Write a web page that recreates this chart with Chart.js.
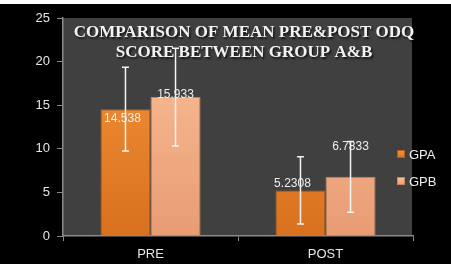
<!DOCTYPE html>
<html lang="en">
<head>
    <meta charset="UTF-8">
    <title>Mean PRE & POST ODQ score</title>
    <script src="https://cdn.jsdelivr.net/npm/chart.js"></script>
    <style>
        html, body { margin: 0; padding: 0; background: #fff; }
        #wrap { width: 451px; height: 264px; }
    </style>
</head>
<body>
<div id="wrap">
    <canvas id="odqChart" width="451" height="264"></canvas>
</div>

<script>
    // data
    const categories = ['PRE', 'POST'];
    const seriesNames = ['GPA', 'GPB'];
    const gpaMeans = [14.538, 5.2308];
    const gpbMeans = [15.933, 6.7833];
    const gpaErrors = [4.8, 3.85];
    const gpbErrors = [5.6, 4.05];
    const yTicks = [0, 5, 10, 15, 20, 25];
    const titleLines = ['COMPARISON OF MEAN PRE&POST ODQ', 'SCORE BETWEEN GROUP A&B'];

    const seriesColors = [
        { top: '#f7953c', bottom: '#d8711f', border: '#b85c15' },
        { top: '#fcc29a', bottom: '#e89c74', border: '#c98560' }
    ];

    function barGradient(i) {
        return function (ctx) {
            const area = ctx.chart.chartArea;
            if (!area) return seriesColors[i].top;
            const g = ctx.chart.ctx.createLinearGradient(0, area.top, 0, area.bottom);
            g.addColorStop(0, seriesColors[i].top);
            g.addColorStop(1, seriesColors[i].bottom);
            return g;
        };
    }

    // background: white strip on top, black page, dark grey plot area
    const backdrop = {
        id: 'backdrop',
        beforeDraw(chart) {
            const c = chart.ctx, a = chart.chartArea;
            c.save();
            c.fillStyle = '#ffffff';
            c.fillRect(0, 0, chart.width, chart.height);
            c.fillStyle = '#000000';
            c.fillRect(0, 4, chart.width, chart.height - 4);
            c.fillStyle = '#404040';
            c.fillRect(a.left, a.top, a.right - a.left - 1, a.bottom - a.top);
            c.restore();
        }
    };

    // title drawn inside the plot area
    const innerTitle = {
        id: 'innerTitle',
        beforeDatasetsDraw(chart) {
            const c = chart.ctx, a = chart.chartArea;
            const cx = (a.left + a.right) / 2 + 6;
            c.save();
            c.font = 'bold 17px "Liberation Serif", "DejaVu Serif", serif';
            c.textAlign = 'center';
            c.textBaseline = 'middle';
            c.shadowColor = 'rgba(0,0,0,0.7)';
            c.shadowOffsetX = 1.5;
            c.shadowOffsetY = 1.5;
            c.shadowBlur = 2;
            c.fillStyle = '#f2f2f2';
            titleLines.forEach((t, i) => c.fillText(t, cx, a.top + 15 + i * 20, a.right - a.left - 4));
            c.restore();
        }
    };

    // error bars from the error arrays
    const errorBars = {
        id: 'errorBars',
        afterDatasetsDraw(chart) {
            const c = chart.ctx, y = chart.scales.y;
            const errs = [gpaErrors, gpbErrors];
            c.save();
            c.strokeStyle = '#f4f4f4';
            c.lineWidth = 1.5;
            chart.data.datasets.forEach((ds, di) => {
                chart.getDatasetMeta(di).data.forEach((bar, i) => {
                    const v = ds.data[i], e = errs[di][i];
                    const top = y.getPixelForValue(v + e);
                    const bot = y.getPixelForValue(v - e);
                    c.beginPath();
                    c.moveTo(bar.x, top);
                    c.lineTo(bar.x, bot);
                    c.moveTo(bar.x - 3.5, top);
                    c.lineTo(bar.x + 3.5, top);
                    c.moveTo(bar.x - 3.5, bot);
                    c.lineTo(bar.x + 3.5, bot);
                    c.stroke();
                });
            });
            c.restore();
        }
    };

    // value labels, nudged like the original
    const labelNudge = [[[-3, 9], [-8, -7]], [[0, -2], [0, -30]]];
    const valueLabels = {
        id: 'valueLabels',
        afterDatasetsDraw(chart) {
            const c = chart.ctx;
            c.save();
            c.font = '12px "Liberation Sans", Arial, sans-serif';
            c.fillStyle = '#eeeeee';
            c.textAlign = 'center';
            c.textBaseline = 'middle';
            chart.data.datasets.forEach((ds, di) => {
                chart.getDatasetMeta(di).data.forEach((bar, i) => {
                    const n = labelNudge[di][i];
                    c.fillText(String(ds.data[i]), bar.x + n[0], bar.y + n[1]);
                });
            });
            c.restore();
        }
    };

    // legend placed over the right edge of the plot
    const sideLegend = {
        id: 'sideLegend',
        afterDraw(chart) {
            const c = chart.ctx, a = chart.chartArea;
            c.save();
            c.font = '13px "Liberation Sans", Arial, sans-serif';
            c.textBaseline = 'middle';
            chart.data.datasets.forEach((ds, i) => {
                const x = a.right - 16, yc = 154 + i * 27;
                const g = c.createLinearGradient(0, yc - 4, 0, yc + 4);
                g.addColorStop(0, seriesColors[i].top);
                g.addColorStop(1, seriesColors[i].bottom);
                c.fillStyle = g;
                c.fillRect(x, yc - 4, 8, 8);
                c.strokeStyle = seriesColors[i].border;
                c.lineWidth = 1;
                c.strokeRect(x + 0.5, yc - 3.5, 7, 7);
                c.fillStyle = '#eeeeee';
                c.fillText(ds.label, x + 12, yc + 1);
            });
            c.restore();
        }
    };

    new Chart(document.getElementById('odqChart'), {
        type: 'bar',
        data: {
            labels: categories,
            datasets: [
                { label: seriesNames[0], data: gpaMeans, backgroundColor: barGradient(0),
                  borderColor: seriesColors[0].border, borderWidth: 1 },
                { label: seriesNames[1], data: gpbMeans, backgroundColor: barGradient(1),
                  borderColor: seriesColors[1].border, borderWidth: 1 }
            ]
        },
        options: {
            responsive: false,
            animation: false,
            events: [],
            layout: { padding: { top: 18, right: 38, left: 0, bottom: 0 } },
            datasets: { bar: { categoryPercentage: 0.572, barPercentage: 1 } },
            plugins: {
                legend: { display: false },
                title: { display: false },
                tooltip: { enabled: false }
            },
            scales: {
                x: {
                    afterFit: s => { s.height = 28; },
                    grid: { drawOnChartArea: false, color: '#8a8a8a', tickLength: 5, offset: true },
                    border: { color: '#8a8a8a', width: 1.5 },
                    ticks: { color: '#e6e6e6', padding: 6,
                             font: { family: '"Liberation Sans", Arial, sans-serif', size: 13 } }
                },
                y: {
                    min: 0,
                    max: 25,
                    afterFit: s => { s.width = 63; },
                    afterBuildTicks: s => { s.ticks = yTicks.map(v => ({ value: v })); },
                    grid: { drawOnChartArea: false, color: '#8a8a8a', tickLength: 6 },
                    border: { color: '#8a8a8a', width: 1.5 },
                    ticks: { color: '#e6e6e6', padding: 7,
                             font: { family: '"Liberation Sans", Arial, sans-serif', size: 13 } }
                }
            }
        },
        plugins: [backdrop, innerTitle, errorBars, valueLabels, sideLegend]
    });
</script>
</body>
</html>
